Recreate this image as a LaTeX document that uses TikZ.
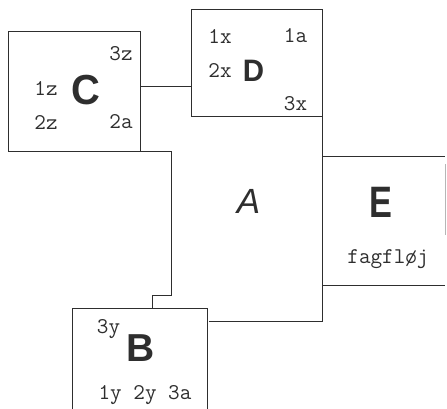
\documentclass[tikz,border=0pt]{standalone}
\usepackage{fontspec}
\newfontfamily\bigfont{Liberation Sans}
\definecolor{ink}{HTML}{2E2E2E}
\tikzset{
  x=1pt, y=-1pt,
  ln/.style={line width=1pt, draw=ink},
  boxnode/.style={draw=none, inner sep=0pt, outer sep=0pt},
  lbl/.style={inner sep=0pt, text=ink, font=\ttfamily\fontsize{22.5}{22.5}\selectfont},
  big/.style={inner sep=0pt, text=ink, font=\bigfont\bfseries\fontsize{#1}{#1}\selectfont},
}
\begin{document}
\begin{tikzpicture}
\useasboundingbox (0,0) rectangle (447,409);
% boxes
\node[boxnode, minimum width=132pt, minimum height=120pt] (C) at (74,92) {};
\node[boxnode, minimum width=131pt, minimum height=107pt] (D) at (256.5,63.5) {};
\node[boxnode, minimum width=123pt, minimum height=129pt] (E) at (383.5,220.5) {};
\node[boxnode, minimum width=135pt, minimum height=101pt] (B) at (139.5,358.5) {};
\draw[ln] (C.south west) rectangle (C.north east);
\draw[ln] (D.north west) -- (D.north east) -- (D.south east) -- (D.south west) -- cycle;
\draw[ln] (E.north west) -- (E.north east);
\draw[ln] (E.south west) -- (E.south east);
\draw[ln, draw=ink!35] ([yshift=-8pt]E.north east) -- ([yshift=50pt]E.south east);
\draw[ln] (B.south west) -- (B.north west) -- (B.north east) -- (B.south east);
% connector C -- D
\draw[ln] ([yshift=5pt]C.east) -- ([yshift=5pt]C.east -| D.west);
% outline of A
\coordinate (a1) at (171,152);
\coordinate (a2) at (171,295);
\coordinate (a3) at (152,295);
\coordinate (a4) at (209,321);
\coordinate (a5) at (322,321);
\draw[ln] (C.south east) -- (a1) -- (a2) -- (a3) -- (a3 |- B.north);
\draw[ln] (D.south east) -- (a5) -- (a4);
% labels C
\node[lbl] (c3z) at (121,54) {3z};
\node[lbl] (c1z) at (46,88) {1z};
\node[big=42, xscale=0.95] (Cl) at (86,90) {C};
\node[lbl] (c2z) at (46,122) {2z};
\node[lbl] (c2a) at (121,122) {2a};
% labels D
\node[lbl] (d1x) at (220,36) {1x};
\node[lbl] (d1a) at (295.5,36) {1a};
\node[lbl] (d2x) at (220,70.5) {2x};
\node[big=31, xscale=0.95] (Dl) at (253.5,71) {D};
\node[lbl] (d3x) at (295.5,104) {3x};
% A
\node[inner sep=0pt, text=ink, font=\bigfont\itshape\fontsize{35}{35}\selectfont] (Al) at (248.5,201.5) {A};
% E
\node[big=44, xscale=0.78] (El) at (380.5,202) {E};
\node[lbl] (ef) at (388,259.5) {fagfløj};
% B
\node[lbl] (b3y) at (108.5,329) {3y};
\node[big=39] (Bl) at (140.5,348) {B};
\node[lbl] (bl) at (145,395) {1y 2y 3a};
\end{tikzpicture}
\end{document}
